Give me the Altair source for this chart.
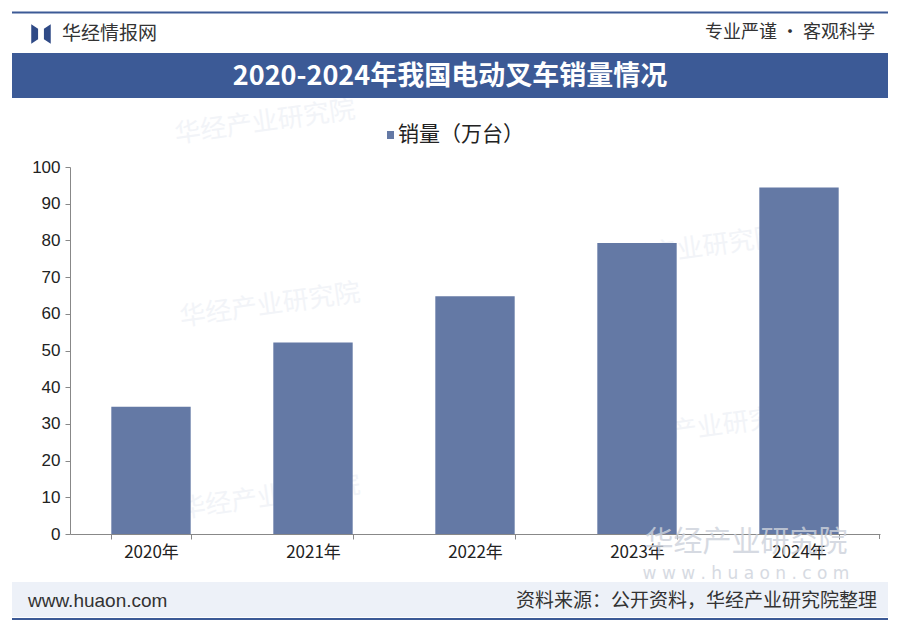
import altair as alt
import pandas as pd

years = ["2020年", "2021年", "2022年", "2023年", "2024年"]
sales = [34.7, 52.2, 64.8, 79.3, 94.4]
legend_label = "销量（万台）"
title_text = "2020-2024年我国电动叉车销量情况"
brand_text = "华经情报网"
slogan_text = "专业严谨 • 客观科学"
site_text = "www.huaon.com"
source_text = "资料来源：公开资料，华经产业研究院整理"

df = pd.DataFrame({"year": years, "sales": sales})
one = pd.DataFrame({"k": [0]})

CJK = "Noto Sans CJK SC"
BAR = "#6479a5"
NAVY = "#3c5a96"

# origin of plot area on page: (70, 167)
def px(x):
    return x - 70

def py(y):
    return y - 167

bars = alt.Chart(df).mark_bar(color=BAR).encode(
    x=alt.X("year:N", sort=years, title=None,
            scale=alt.Scale(paddingInner=0.51, paddingOuter=0.255),
            axis=alt.Axis(labelAngle=0, labelFont=CJK, labelFontSize=17, labelColor="#222",
                          tickBand="extent", tickSize=5, tickColor="#888", domainColor="#888",
                          labelPadding=5)),
    y=alt.Y("sales:Q", title=None,
            scale=alt.Scale(domain=[0, 100], nice=False),
            axis=alt.Axis(values=list(range(0, 101, 10)), grid=False, tickSize=5,
                          tickColor="#888", domainColor="#888", labelFont="Liberation Sans",
                          labelFontSize=17, labelColor="#222", labelPadding=5)),
)

base = alt.Chart(one)

def rect(x1, x2, y1, y2, color, opacity=1.0):
    return base.mark_rect(color=color, opacity=opacity).encode(
        x=alt.value(px(x1)), x2=alt.value(px(x2)), y=alt.value(py(y1)), y2=alt.value(py(y2)))

def text(x, y, s, size, color="#333", align="left", weight="normal", font=CJK, angle=0, opacity=1.0):
    return base.mark_text(text=s, fontSize=size, color=color, align=align, baseline="middle",
                          fontWeight=weight, font=font, angle=angle, opacity=opacity).encode(
        x=alt.value(px(x)), y=alt.value(py(y)))

WM = "#f2f4f8"
layers = [
    # faint watermarks
    text(175, 135, "华经产业研究院", 26, WM, angle=352),
    text(180, 318, "华经产业研究院", 26, WM, angle=352),
    text(600, 262, "华经产业研究院", 26, WM, angle=352),
    text(620, 440, "华经产业研究院", 26, WM, angle=352),
    text(180, 510, "华经产业研究院", 26, WM, angle=352),
    rect(12, 888, 582, 617, "#edf1f8"),
    bars,
    # top line & bottom line
    rect(12, 888, 11.5, 13.5, NAVY),
    rect(12, 888, 618, 620, NAVY),
    # header
    base.mark_point(shape="M-1,-1L-0.3,-0.55L-0.3,0.55L-1,1Z M1,-1L0.3,-0.55L0.3,0.55L1,1Z",
                    filled=True, color="#2f4a86", size=380, opacity=1).encode(
        x=alt.value(px(41)), y=alt.value(py(34))),
    text(62, 34, brand_text, 19, "#333"),
    text(875, 33, slogan_text, 18, "#333", align="right"),
    # title banner
    rect(12, 888, 53, 98, NAVY),
    text(450, 77, title_text, 27, "white", align="center", weight="bold"),
    # legend
    rect(387, 394, 131, 139, BAR),
    text(398, 135, legend_label, 21, "#222"),
    # right end tick of x axis
    base.mark_rule(color="#888").encode(x=alt.value(px(879.5)), y=alt.value(py(534)), y2=alt.value(py(539))),
    # bottom-right watermark
    text(746, 543, "华经产业研究院", 29, "#cdd2db", align="center", opacity=0.8),
    text(746, 574, "w w w . h u a o n . c o m", 17, "#cdd2db", align="center", font="DejaVu Sans", opacity=0.8),
    # footer
    text(28, 601, site_text, 19, "#333", font="Liberation Sans"),
    text(877, 601, source_text, 19, "#333", align="right"),
]

chart = alt.layer(*layers).properties(
    width=810, height=367,
    padding={"left": 62, "top": 159, "right": 12, "bottom": 91},
    autosize=alt.AutoSizeParams(type="none"),
    background="white",
).configure_view(stroke=None)

chart.save("out.html", embed_options={"renderer": "svg", "actions": False})
